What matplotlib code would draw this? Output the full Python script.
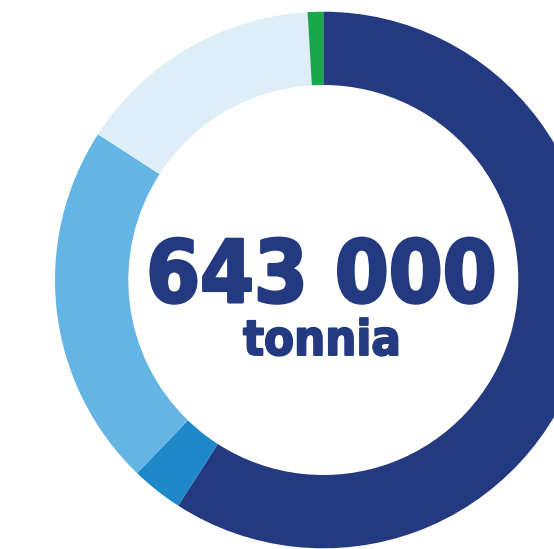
import matplotlib
matplotlib.use("Agg")
import matplotlib.pyplot as plt
import matplotlib.patheffects as pe

# Data (tonnes)
categories = ["A", "B", "C", "D", "E"]
values = [380000, 20000, 141000, 96000, 6000]
colors = ["#243a80", "#1e88c8", "#64b4e4", "#ddeef9", "#1aa64a"]
total_label = "643 000"
unit_label = "tonnia"

W, H = 554, 549
cx, cy = 323.3, 280.0   # centre in pixels from top-left
R_out, R_in = 268.3, 195.0

fig = plt.figure(figsize=(W / 100, H / 100), dpi=100)
ax = fig.add_axes([0, 0, 1, 1])
ax.pie(values, colors=colors, startangle=90, counterclock=False,
       radius=R_out, center=(0, 0),
       wedgeprops=dict(width=R_out - R_in, linewidth=0))
ax.set_xlim(-cx, W - cx)
ax.set_ylim(-(H - cy), cy)
ax.set_aspect("equal")
ax.axis("off")

navy = "#243a80"
ax.text(321.5 - cx, cy - 302, total_label, ha="center", va="baseline",
        fontsize=62, fontweight="bold", family="DejaVu Sans",
        fontstretch="condensed", color=navy,
        path_effects=[pe.withStroke(linewidth=2.2, foreground=navy)])
ax.text(322 - cx, cy - 355, unit_label, ha="center", va="baseline",
        fontsize=35, fontweight="bold", family="DejaVu Sans",
        fontstretch="condensed", color=navy,
        path_effects=[pe.withStroke(linewidth=1.4, foreground=navy)])

fig.savefig("out.png", dpi=100)
